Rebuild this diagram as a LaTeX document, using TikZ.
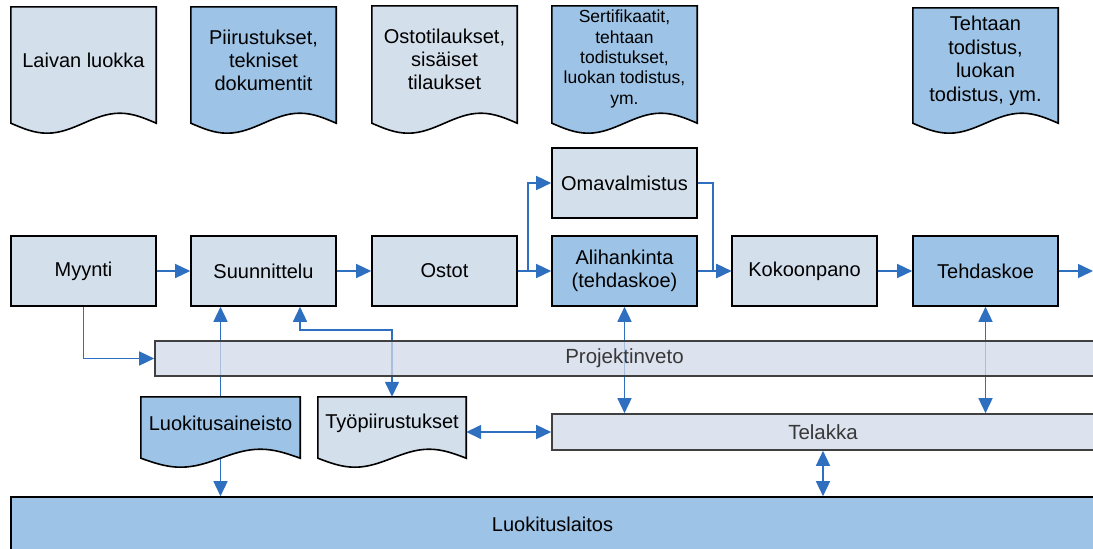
\documentclass[tikz,border=0pt]{standalone}
\usepackage{fontspec}
\setmainfont{Liberation Sans}
\usetikzlibrary{arrows.meta,calc}

\definecolor{boxfill}{HTML}{D4DFEC}
\definecolor{bluefill}{HTML}{9DC3E6}
\definecolor{flow}{HTML}{2F6FBF}
\definecolor{barfill}{HTML}{D0DAE8}
\definecolor{barline}{HTML}{404040}
\definecolor{bartext}{HTML}{383838}

\pgfdeclarelayer{lines}
\pgfdeclarelayer{docs}
\pgfsetlayers{lines,docs,main}

% Document symbol around a node: straight sides running #2 below the node,
% closed by one sine wave of amplitude #3, filled with #4.
\newcommand\docoutline[4]{%
  \path[docedge,fill=#4] let \p1=(#1.north west), \p2=(#1.south east) in
    (\p1) -- (\x1,{\y2-#2pt})
    sin ({\x1+0.25*(\x2-\x1)},{\y2-#2pt-#3pt})
    cos ({0.5*(\x1+\x2)},{\y2-#2pt})
    sin ({\x1+0.75*(\x2-\x1)},{\y2-#2pt+#3pt})
    cos (\x2,{\y2-#2pt}) -- (\x2,\y1) -- cycle;}

\tikzset{
  every node/.style={font=\fontsize{20}{23}\selectfont, inner sep=0pt},
  box/.style={draw=black, line width=1.6pt, fill=boxfill,
    minimum width=145pt, minimum height=70pt, align=center},
  bluebox/.style={box, fill=bluefill},
  doc/.style={minimum width=145pt, minimum height=106pt, align=center},
  lowdoc/.style={minimum height=52pt, align=center},
  docedge/.style={draw=black, line width=1.6pt},
  bar/.style={draw=barline, line width=1.6pt, fill=barfill, fill opacity=0.75,
    text opacity=1, text=bartext, font=\fontsize{20.5}{24}\selectfont},
  tip/.tip={Triangle[length=15pt,width=14pt]},
  flowline/.style={draw=flow, line width=1.5pt, -tip},
  twoway/.style={draw=flow, line width=1.5pt, tip-tip},
}

\begin{document}
\begin{tikzpicture}[x=1pt,y=-1pt]
\useasboundingbox (0,0) rectangle (1093,549);

% documents along the top
\node[doc] (laivan)  at (83.5,60)  {Laivan luokka};
\node[doc] (piirus)  at (263.5,60) {Piirustukset,\\tekniset\\dokumentit};
\node[doc] (ostoti)  at (444.5,59) {Ostotilaukset,\\sisäiset\\tilaukset};
\node[doc, font=\fontsize{17.5}{20.3}\selectfont] (sertif) at (624.5,59)
  {Sertifikaatit,\\tehtaan\\todistukset,\\luokan todistus,\\ym.};
\node[doc, font=\fontsize{20}{23.5}\selectfont] (tehtaan) at (985.5,61)
  {Tehtaan\\todistus,\\luokan\\todistus, ym.};

% process chain
\node[box]     (myynti) at (83.5,271)  {Myynti};
\node[box]     (suunn)  at (263.5,271) {Suunnittelu};
\node[box]     (ostot)  at (444.5,271) {Ostot};
\node[box]     (omaval) at (624.5,183) {Omavalmistus};
\node[bluebox] (alih)   at (624.5,271) {Alihankinta\\(tehdaskoe)};
\node[box]     (kokoon) at (804.5,271) {Kokoonpano};
\node[bluebox] (tehdas) at (985.5,271) {Tehdaskoe};
\coordinate (jatko) at (1093,271);

% wide bars
\node[bar, minimum width=939pt, minimum height=35pt] (proj) at (624.5,358.5) {Projektinveto};
\node[bar, minimum width=542pt, minimum height=36pt] (telakka) at (823,432) {Telakka};
\node[draw=black, line width=1.6pt, fill=bluefill, minimum width=1083pt,
  minimum height=55pt] (lait) at (552.5,524.5) {Luokituslaitos};

% lower documents
\node[lowdoc, minimum width=159pt] (luokaine) at (220.5,423) {Luokitusaineisto};
\node[lowdoc, minimum width=148pt] (tyopiir)  at (392,423)   {Työpiirustukset};

\begin{pgfonlayer}{docs}
  \docoutline{laivan}{10}{10}{boxfill}
  \docoutline{piirus}{10}{10}{bluefill}
  \docoutline{ostoti}{11}{10}{boxfill}
  \docoutline{sertif}{11}{10}{bluefill}
  \docoutline{tehtaan}{9}{10}{bluefill}
  \docoutline{luokaine}{9}{9}{bluefill}
  \docoutline{tyopiir}{9}{9}{boxfill}
\end{pgfonlayer}

\begin{pgfonlayer}{lines}
  \draw[flowline] (myynti) -- (suunn);
  \draw[flowline] (suunn) -- (ostot);
  \draw[flowline] (ostot) -- (alih);
  \draw[flowline] (ostot.east) -- ++(10,0) |- (omaval.west);
  \draw[flowline] (omaval.east) -- ++(15,0) |- (kokoon.west);
  \draw[flowline] (alih) -- (kokoon);
  \draw[flowline] (kokoon) -- (tehdas);
  \draw[flowline] (tehdas) -- (jatko);
  \draw[flowline] (myynti.south) |- (proj.west);
  \draw[flowline] (luokaine.north) -- (luokaine.north |- suunn.south);
  \draw[flowline] (luokaine.south) -- (luokaine.south |- lait.north);
  \draw[twoway] ($(suunn.south)+(36.5,0)$) -- ++(0,23) -| (tyopiir.north);
  \draw[twoway] (tyopiir.east |- telakka.west) -- (telakka.west);
  \draw[twoway] (alih.south) -- (alih.south |- telakka.north);
  \draw[twoway] (tehdas.south) -- (tehdas.south |- telakka.north);
  \draw[twoway] (telakka.south) -- (telakka.south |- lait.north);
\end{pgfonlayer}
\end{tikzpicture}
\end{document}
